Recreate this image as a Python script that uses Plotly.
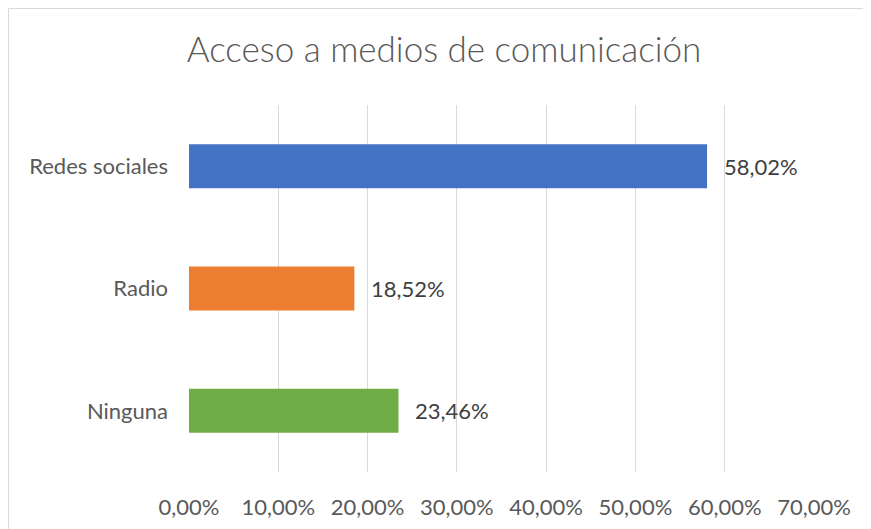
import plotly.graph_objects as go

categories = ["Redes sociales", "Radio", "Ninguna"]
values = [0.5802, 0.1852, 0.2346]
colors = ["#4472C4", "#ED7D31", "#70AD47"]
tick_vals = [0, 0.1, 0.2, 0.3, 0.4, 0.5, 0.6, 0.7]

FONT = "Lato"

fig = go.Figure(go.Bar(
    y=categories, x=values, orientation="h",
    marker=dict(color=colors, line=dict(width=0)),
    hoverinfo="skip",
))

annotations = [
    dict(x=v, y=c, xref="x", yref="y", text=f"{v*100:.2f}%".replace(".", ","),
         showarrow=False, xanchor="left", yanchor="middle", xshift=15,
         font=dict(family=FONT, size=22, color="#404040"))
    for c, v in zip(categories, values)
]

L, T, W, H = 181, 97, 625, 367
fig.update_layout(
    width=871, height=529,
    margin=dict(l=L, r=871 - L - W, t=T, b=529 - T - H),
    paper_bgcolor="white", plot_bgcolor="white",
    separators=",.",
    bargap=0.64,
    showlegend=False,
    title=dict(text="Acceso a medios de comunicación", x=436 / 871, xanchor="center",
               y=1 - 42 / 529, yanchor="middle", yref="container",
               font=dict(family=FONT, size=35, color="#595959", weight=300)),
    xaxis=dict(range=[0, 0.7], tickvals=tick_vals, tickformat=".2%",
               showgrid=True, gridcolor="#d9d9d9", gridwidth=1,
               zeroline=False, showline=False, ticks="",
               ticklabelstandoff=20,
               tickfont=dict(family=FONT, size=22, color="#595959")),
    yaxis=dict(categoryorder="array", categoryarray=categories, autorange="reversed",
               showgrid=False, zeroline=False, showline=False, ticks="",
               ticklabelstandoff=20,
               tickfont=dict(family=FONT, size=22, color="#595959")),
    annotations=annotations,
    shapes=[dict(type="rect", xref="paper", yref="paper",
                 x0=(0.5 - L) / W, x1=2, y0=-1, y1=(T + H - 0.5) / H,
                 line=dict(color="#d9d9d9", width=1), fillcolor="rgba(0,0,0,0)",
                 layer="below")],
)

fig.write_html("out.html")
